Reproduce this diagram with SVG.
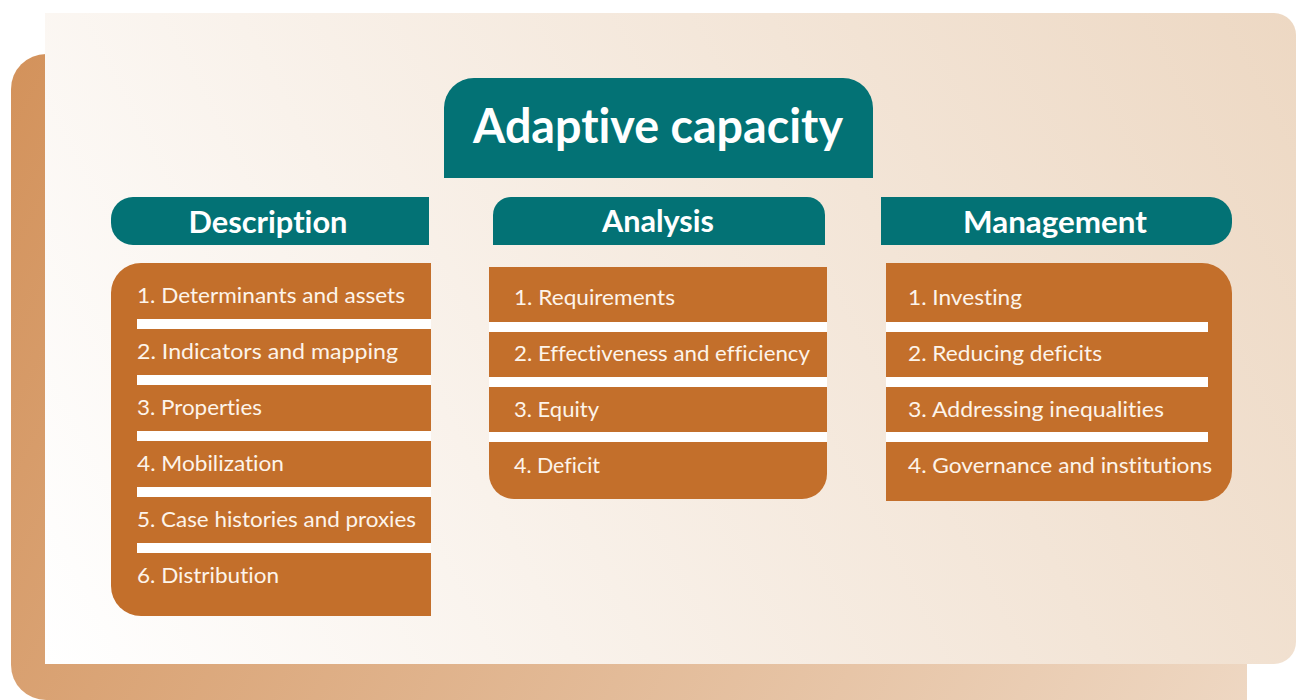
<svg xmlns="http://www.w3.org/2000/svg" width="1296" height="700" viewBox="0 0 1296 700">
  <defs>
    <linearGradient id="backGrad" gradientUnits="userSpaceOnUse" x1="11" y1="54" x2="1247" y2="700">
      <stop offset="0" stop-color="#D3925B"/>
      <stop offset="1" stop-color="#EED7C2"/>
    </linearGradient>
    <linearGradient id="frontGrad" gradientUnits="userSpaceOnUse" x1="45" y1="664" x2="1296" y2="13">
      <stop offset="0" stop-color="#FFFFFF"/>
      <stop offset="1" stop-color="#EDD8C3"/>
    </linearGradient>
    <style>
      .teal { fill: #037275; }
      .orange { fill: #C36F2B; }
      .bar { fill: #FFFFFF; }
      text { font-variant-ligatures: no-common-ligatures; font-feature-settings: "liga" 0, "dlig" 0; }
      .title { font-family: Lato, "Open Sans", "Liberation Sans", sans-serif; font-weight: bold; font-size: 47px; fill: #FFFFFF; }
      .head { font-family: Lato, "Open Sans", "Liberation Sans", sans-serif; font-weight: bold; font-size: 30px; fill: #FFFFFF; }
      .item { font-family: Lato, "Open Sans", "Liberation Sans", sans-serif; font-size: 22px; fill: #FDF4EA; }
    </style>
  </defs>

  <g id="background">
    <path d="M46,54 H1247 V700 H46 A35,35 0 0 1 11,665 V89 A35,35 0 0 1 46,54 Z" fill="url(#backGrad)"/>
    <path d="M45,13 H1274 A22,22 0 0 1 1296,35 V642 A22,22 0 0 1 1274,664 H45 Z" fill="url(#frontGrad)"/>
  </g>

  <g id="title">
    <path class="teal" d="M444,178 V108 A30,30 0 0 1 474,78 H843 A30,30 0 0 1 873,108 V178 Z"/>
    <text class="title" x="658" y="143" text-anchor="middle" textLength="370" lengthAdjust="spacingAndGlyphs">Adaptive capacity</text>
  </g>

  <g id="description">
    <path class="teal" d="M133,197 H429 V245 H133 A22,22 0 0 1 111,223 V219 A22,22 0 0 1 133,197 Z"/>
    <text class="head" x="268" y="233" text-anchor="middle" textLength="159" lengthAdjust="spacingAndGlyphs">Description</text>
    <path class="orange" d="M141,263 H431 V616 H141 A30,30 0 0 1 111,586 V293 A30,30 0 0 1 141,263 Z"/>
    <rect class="bar" x="137" y="319" width="294" height="10"/>
    <rect class="bar" x="137" y="375" width="294" height="10"/>
    <rect class="bar" x="137" y="431" width="294" height="10"/>
    <rect class="bar" x="137" y="487" width="294" height="10"/>
    <rect class="bar" x="137" y="543" width="294" height="10"/>
    <text class="item" x="137" y="303" textLength="268" lengthAdjust="spacingAndGlyphs">1. Determinants and assets</text>
    <text class="item" x="137" y="359" textLength="261" lengthAdjust="spacingAndGlyphs">2. Indicators and mapping</text>
    <text class="item" x="137" y="415" textLength="125" lengthAdjust="spacingAndGlyphs">3. Properties</text>
    <text class="item" x="137" y="471" textLength="147" lengthAdjust="spacingAndGlyphs">4. Mobilization</text>
    <text class="item" x="137" y="527" textLength="279" lengthAdjust="spacingAndGlyphs">5. Case histories and proxies</text>
    <text class="item" x="137" y="583" textLength="142" lengthAdjust="spacingAndGlyphs">6. Distribution</text>
  </g>

  <g id="analysis">
    <path class="teal" d="M493,245 V215 A18,18 0 0 1 511,197 H807 A18,18 0 0 1 825,215 V245 Z"/>
    <text class="head" x="658" y="232" text-anchor="middle" textLength="112" lengthAdjust="spacingAndGlyphs">Analysis</text>
    <path class="orange" d="M489,267 H827 V474 A25,25 0 0 1 802,499 H514 A25,25 0 0 1 489,474 Z"/>
    <rect class="bar" x="489" y="322" width="338" height="10"/>
    <rect class="bar" x="489" y="377" width="338" height="10"/>
    <rect class="bar" x="489" y="432" width="338" height="10"/>
    <text class="item" x="514" y="305" textLength="161" lengthAdjust="spacingAndGlyphs">1. Requirements</text>
    <text class="item" x="514" y="361" textLength="296" lengthAdjust="spacingAndGlyphs">2. Effectiveness and efficiency</text>
    <text class="item" x="514" y="417" textLength="85" lengthAdjust="spacingAndGlyphs">3. Equity</text>
    <text class="item" x="514" y="473" textLength="86" lengthAdjust="spacingAndGlyphs">4. Deficit</text>
  </g>

  <g id="management">
    <path class="teal" d="M881,197 H1210 A22,22 0 0 1 1232,219 V223 A22,22 0 0 1 1210,245 H881 Z"/>
    <text class="head" x="1055" y="233" text-anchor="middle" textLength="184" lengthAdjust="spacingAndGlyphs">Management</text>
    <path class="orange" d="M886,263 H1202 A30,30 0 0 1 1232,293 V471 A30,30 0 0 1 1202,501 H886 Z"/>
    <rect class="bar" x="886" y="322" width="322" height="10"/>
    <rect class="bar" x="886" y="377" width="322" height="10"/>
    <rect class="bar" x="886" y="432" width="322" height="10"/>
    <text class="item" x="908" y="305" textLength="114" lengthAdjust="spacingAndGlyphs">1. Investing</text>
    <text class="item" x="908" y="361" textLength="194" lengthAdjust="spacingAndGlyphs">2. Reducing deficits</text>
    <text class="item" x="908" y="417" textLength="256" lengthAdjust="spacingAndGlyphs">3. Addressing inequalities</text>
    <text class="item" x="908" y="473" textLength="304" lengthAdjust="spacingAndGlyphs">4. Governance and institutions</text>
  </g>

  <g id="connectors"></g>
</svg>
